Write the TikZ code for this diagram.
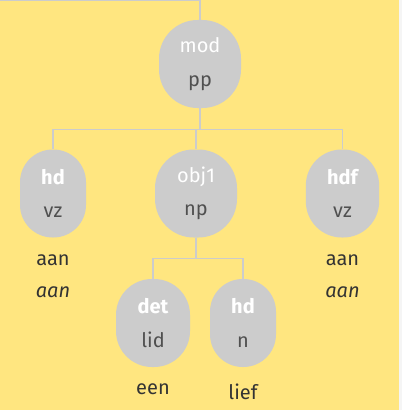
\documentclass[tikz,border=0pt]{standalone}
\usepackage{fontspec}
\setmainfont{Fira Sans}
\usetikzlibrary{positioning}
\definecolor{bgyellow}{HTML}{FFE680}
\definecolor{catgrey}{HTML}{CCCCCC}
\definecolor{wordgrey}{HTML}{333333}
\definecolor{posgrey}{HTML}{505050}
\newcommand{\rel}[1]{\textcolor{white}{#1}}
\newcommand{\hrel}[1]{\textcolor{white}{\bfseries #1}}
\tikzset{
  cat/.style={fill=catgrey,rounded corners=24.5pt,text=posgrey,align=center,
    minimum height=66pt,inner sep=0pt,font=\fontsize{15}{25}\selectfont},
  word/.style={below=12.5pt of #1,text=wordgrey,align=center,inner sep=0pt,
    font=\fontsize{15}{24}\selectfont},
  link/.style={catgrey,line width=0.8pt}
}
\begin{document}
\begin{tikzpicture}[x=0.75pt,y=-0.75pt]
                \useasboundingbox (0,0) rectangle (402,410);
                \fill[white!96!black] (0,0) rectangle (402,410);
                \fill[bgyellow] (0,0) rectangle (399,410);
                \coordinate (top) at (0,0.5);
                % tree nodes
                \node[cat,minimum width=61.5pt,rounded corners=29pt] (mod) at (200,64) {\rel{mod}\\pp};
                \node[cat,minimum width=49.5pt] (hd) at (53,193.5) {\hrel{hd}\\vz};
                \node[cat,minimum width=61.5pt,rounded corners=29pt] (obj1) at (196,193.5) {\rel{obj1}\\np};
                \node[cat,minimum width=55pt,rounded corners=27pt] (hdf) at (342.5,193.5) {\hrel{hdf}\\vz};
                \node[cat,minimum width=55.5pt,rounded corners=27pt] (det) at (153,323) {\hrel{det}\\lid};
                \node[cat,minimum width=49.5pt] (hdn) at (243,323) {\hrel{hd}\\n};
                % words
                \node[word=hd] (hdw) {aan\\\textit{aan}};
                \node[word=hdf] (hdfw) {aan\\\textit{aan}};
                \node[word=det] (detw) {een};
                \node[word=hdn] (hdnw) {lief\\\textit{lief}};
                % connectors
                \draw[link] (top) -| (mod.north);
                \draw[link] (mod.south) -- ++(0,21) coordinate (modbar);
                \draw[link] (modbar) -| (hd.north);
                \draw[link] (modbar) -| (obj1.north);
                \draw[link] (modbar) -| (hdf.north);
                \draw[link] (obj1.south) -- ++(0,21) coordinate (objbar);
                \draw[link] (objbar) -| (det.north);
                \draw[link] (objbar) -| (hdn.north);
            \end{tikzpicture}
\end{document}
